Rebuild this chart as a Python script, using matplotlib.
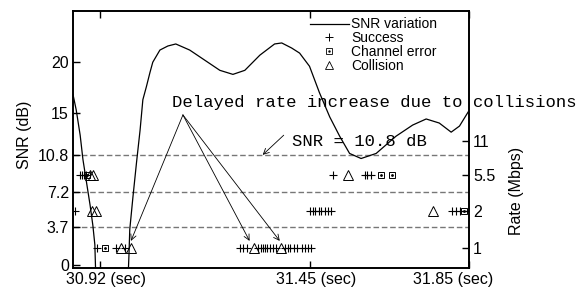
import matplotlib
matplotlib.use("Agg")
import matplotlib.pyplot as plt
import matplotlib.transforms as mtransforms
from matplotlib.lines import Line2D
from matplotlib.legend_handler import HandlerTuple

plt.rcParams['font.family'] = ['Liberation Sans', 'DejaVu Sans']

# SNR trace (time in sec, SNR in dB)
snr_t = [30.852, 30.860, 30.870, 30.877, 30.887, 30.895, 30.902, 30.907, 30.910,
         30.990, 30.993, 30.995, 31.003, 31.012, 31.021, 31.028, 31.037, 31.046,
         31.053, 31.071, 31.091, 31.111, 31.146, 31.184, 31.222, 31.255, 31.285,
         31.323, 31.360, 31.378, 31.403, 31.423, 31.448, 31.473, 31.499, 31.524,
         31.549, 31.578, 31.616, 31.666, 31.708, 31.742, 31.775, 31.805, 31.826,
         31.848]
snr_db = [16.8, 15.3, 12.8, 10.4, 7.9, 5.9, 3.9, 2.0, -2.0,
          -2.0, 1.0, 3.5, 6.7, 10.1, 13.3, 16.3, 17.6, 19.0,
          20.0, 21.2, 21.6, 21.8, 21.2, 20.2, 19.2, 18.8, 19.2,
          20.7, 21.8, 21.9, 21.4, 20.9, 19.6, 17.0, 14.6, 12.7,
          11.0, 10.5, 11.0, 12.7, 13.8, 14.4, 14.0, 13.1, 13.7,
          15.1]

# frame outcomes: time (sec) and rate (Mbps)
success_t = [30.870, 30.875, 30.880, 30.885, 31.506, 31.587, 31.594, 31.604,
             30.857, 31.448, 31.456, 31.463, 31.471, 31.478, 31.486, 31.494, 31.501,
             31.808, 31.818, 31.828,
             30.912, 30.960, 30.983, 31.272, 31.280, 31.290, 31.317, 31.325, 31.330,
             31.335, 31.340, 31.348, 31.355, 31.363, 31.385, 31.393, 31.400, 31.408,
             31.416, 31.428, 31.436, 31.443, 31.451]
success_r = [5.5] * 8 + [2] * 12 + [1] * 23

error_t = [30.887, 31.629, 31.657, 31.838, 30.933]
error_r = [5.5, 5.5, 5.5, 2, 1]

collision_t = [30.895, 30.902, 31.544, 30.899, 30.911, 31.758, 30.973, 30.998, 31.307, 31.375]
collision_r = [5.5, 5.5, 5.5, 2, 2, 2, 1, 1, 1, 1]

rates = [1, 2, 5.5, 11]
rate_rows = [1.65, 5.3, 8.9, 12.2]   # where each rate sits on the SNR scale
thresholds = [3.7, 7.2, 10.8]
snr_ticks = [0, 3.7, 7.2, 10.8, 15, 20]
time_ticks = [30.92, 31.45, 31.85]

row = dict(zip(rates, rate_rows))

fig = plt.figure(figsize=(5.87, 2.90), dpi=100)
ax = fig.add_axes([0.1244, 0.0759, 0.6746, 0.8861])

for th in thresholds:
    ax.axhline(th, color='#777777', lw=1.0, ls=(0, (4, 2)), zorder=1)

ax.plot(snr_t, snr_db, color='black', lw=0.9, zorder=3)
ax.plot(success_t, [row[r] for r in success_r], ls='none', marker='+',
        ms=6, mew=0.8, color='black', zorder=4)
ax.plot(error_t, [row[r] for r in error_r], ls='none', marker='s', ms=5,
        mew=0.7, mfc='none', color='black', zorder=4, clip_on=False)
ax.plot(error_t, [row[r] for r in error_r], ls='none', marker='.', ms=2,
        color='black', zorder=4, clip_on=False)
ax.plot(collision_t, [row[r] for r in collision_r], ls='none', marker='^',
        ms=7, mew=0.7, mfc='none', color='black', zorder=4)

ax.set_xlim(30.852, 31.85)
ax.set_ylim(-0.3, 25.05)
ax.set_yticks(snr_ticks)
ax.set_yticklabels(['0', '3.7', '7.2', '10.8', '15', '20'])
ax.set_xticks(time_ticks)
ax.set_xticklabels(['%.2f (sec)' % t for t in time_ticks])
ax.set_ylabel('SNR (dB)', fontsize=11.5)
ax.yaxis.set_label_coords(-0.103, 0.52)
ax.tick_params(axis='both', direction='in', length=5, width=1, labelsize=11.5, pad=3)
ax.tick_params(axis='x', top=True)
for s in ax.spines.values():
    s.set_linewidth(1.2)

for lab, dx in zip(ax.get_xticklabels(), [5.5, 6, -16]):
    lab.set_transform(lab.get_transform() +
                      mtransforms.ScaledTranslation(dx / 100, 0, fig.dpi_scale_trans))

ax2 = ax.twinx()
ax2.set_ylim(ax.get_ylim())
ax2.set_yticks(rate_rows)
ax2.set_yticklabels(['1', '2', '5.5', '11'])
ax2.tick_params(axis='y', direction='in', length=5, width=1, labelsize=11.5, pad=3)
ax2.set_ylabel('Rate (Mbps)', fontsize=11.5)
ax2.yaxis.set_label_coords(1.10, 0.30)
for s in ax2.spines.values():
    s.set_linewidth(1.2)

mono = dict(family='Liberation Mono', fontsize=12.4)
apex = (31.129, 14.8)
for tip in [(30.998, 2.37), (31.297, 2.37), (31.373, 2.37)]:
    ax.annotate('', xy=tip, xytext=apex,
                arrowprops=dict(arrowstyle='->', lw=0.6, color='black',
                                shrinkA=0, shrinkB=0))
ax.text(31.101, 16.0, 'Delayed rate increase due to collisions', va='center',
        ha='left', **mono)
ax.annotate('', xy=(31.330, 10.86), xytext=(31.383, 12.8),
            arrowprops=dict(arrowstyle='->', lw=0.6, color='black',
                            shrinkA=0, shrinkB=0))
ax.text(31.403, 12.2, 'SNR = 10.8 dB', va='center', ha='left', **mono)

h_line = Line2D([], [], color='black', lw=0.9)
h_succ = Line2D([], [], ls='none', marker='+', ms=5.5, mew=0.7, color='black')
h_err = (Line2D([], [], ls='none', marker='s', ms=5, mew=0.6, mfc='none', color='black'),
         Line2D([], [], ls='none', marker='.', ms=1.5, color='black'))
h_col = Line2D([], [], ls='none', marker='^', ms=6, mew=0.6, mfc='none', color='black')
ax.legend([h_line, h_succ, h_err, h_col],
          ['SNR variation', 'Success', 'Channel error', 'Collision'],
          handler_map={tuple: HandlerTuple(ndivide=1)},
          loc='upper left', bbox_to_anchor=(0.598, 0.975), frameon=False,
          fontsize=10, handlelength=2.8, handletextpad=0.2, labelspacing=-0.02,
          borderpad=0, borderaxespad=0)

fig.savefig('out.png', dpi=100)
